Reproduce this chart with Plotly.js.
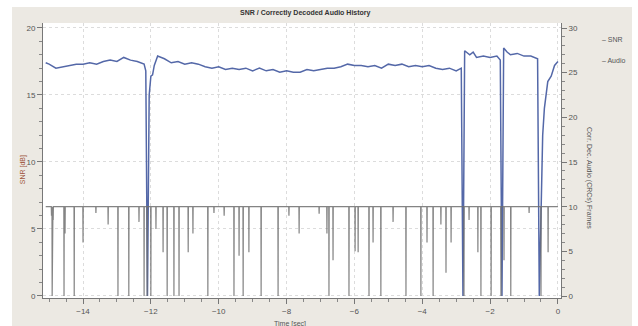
<!DOCTYPE html>
<html>
<head>
<meta charset="utf-8">
<script src="https://cdn.plot.ly/plotly-3.0.1.min.js"></script>
<style>
html,body{margin:0;padding:0;background:#ffffff;width:638px;height:326px;overflow:hidden;}
#chart{position:absolute;left:12px;top:7px;width:620px;height:319px;}
</style>
</head>
<body>
<div id="chart"></div>
<script>
// SNR history (seconds before now, dB)
var snrTime = [-15.1,-15.0,-14.8,-14.6,-14.4,-14.2,-14.0,-13.8,-13.6,-13.4,-13.2,-13.0,-12.8,-12.6,-12.4,-12.2,-12.15,-12.1,-12.05,-12.0,-11.95,-11.9,-11.8,-11.6,-11.4,-11.2,-11.0,-10.8,-10.6,-10.4,-10.2,-10.0,-9.8,-9.6,-9.4,-9.2,-9.0,-8.8,-8.6,-8.4,-8.2,-8.0,-7.8,-7.6,-7.4,-7.2,-7.0,-6.8,-6.6,-6.4,-6.2,-6.0,-5.8,-5.6,-5.4,-5.2,-5.0,-4.8,-4.6,-4.4,-4.2,-4.0,-3.8,-3.6,-3.4,-3.2,-3.0,-2.85,-2.8,-2.75,-2.6,-2.5,-2.4,-2.2,-2.0,-1.8,-1.7,-1.65,-1.6,-1.5,-1.4,-1.2,-1.0,-0.8,-0.6,-0.55,-0.45,-0.4,-0.3,-0.2,-0.1,0.0];
var snrValue = [17.4,17.3,17.0,17.1,17.2,17.3,17.3,17.4,17.3,17.5,17.6,17.5,17.8,17.6,17.5,17.3,16.8,0,15.0,16.4,16.5,17.2,17.9,17.7,17.4,17.5,17.3,17.4,17.3,17.1,17.0,17.1,16.9,17.0,16.9,17.0,16.8,17.0,16.8,16.9,16.7,16.8,16.7,16.7,16.9,16.8,16.9,17.0,17.0,17.1,17.3,17.2,17.2,17.1,17.2,17.0,17.3,17.2,17.3,17.1,17.2,17.1,17.2,17.0,16.9,17.0,16.8,17.0,0,18.3,18.0,18.2,17.8,17.9,17.8,17.9,17.6,0,18.5,18.2,18.0,18.1,17.9,17.9,17.7,0,12.0,14.0,16.0,16.4,17.2,17.5];

// Correctly decoded audio frames: dips below the nominal 10 frames
var audioNominal = 10;
var audioDipTime = [-14.93,-14.91,-14.88,-14.56,-14.53,-14.26,-14.0,-13.62,-13.26,-12.97,-12.65,-12.35,-12.2,-12.11,-12.0,-11.85,-11.64,-11.52,-11.32,-11.17,-10.9,-10.76,-10.32,-10.14,-9.84,-9.55,-9.4,-9.28,-9.11,-8.75,-8.25,-7.93,-7.63,-7.04,-6.81,-6.75,-6.63,-6.16,-5.98,-5.89,-5.57,-5.45,-5.22,-4.86,-4.48,-4.04,-3.86,-3.68,-3.45,-3.3,-3.15,-2.77,-2.62,-2.36,-2.27,-1.97,-1.68,-1.59,-1.39,-0.85,-0.5,-0.29];
var audioDipValue = [9.0,0,8.5,0,7.0,0,6.0,9.3,8.0,0,0,8.3,0,0,0,7.5,4.9,0,0,0,4.9,7.0,0,9.3,9.0,0,4.5,0,4.9,0,0,9.0,7.0,9.2,7.0,0,4.0,0,5.0,4.9,0,6.0,0,8.3,0,0,6.0,0,8.0,2.6,6.0,0,8.5,4.9,0,0,0,4.0,0,9.3,0,4.9];
var audioStart = -15.1, audioEnd = 0.0;

var ax = [audioStart], ay = [audioNominal];
for (var i = 0; i < audioDipTime.length; i++) {
  ax.push(audioDipTime[i] - 0.006, audioDipTime[i], audioDipTime[i] + 0.006);
  ay.push(audioNominal, audioDipValue[i], audioNominal);
}
ax.push(audioEnd); ay.push(audioNominal);

var traces = [
  {x: ax, y: ay, type: 'scatter', mode: 'lines', name: 'Audio', yaxis: 'y2',
   line: {color: '#6e6e6e', width: 1.2}, opacity: 0.85, showlegend: false, hoverinfo: 'skip'},
  {x: snrTime, y: snrValue, type: 'scatter', mode: 'lines', name: 'SNR',
   line: {color: '#5468a8', width: 1.5}, showlegend: false}
];

var tickFont = {family: 'Liberation Sans, Arial, sans-serif', size: 8, color: '#555'};
var layout = {
  width: 620, height: 319,
  margin: {l: 31, r: 71, t: 16, b: 28, pad: 0},
  paper_bgcolor: '#ece9e3',
  plot_bgcolor: '#ffffff',
  showlegend: false,
  title: {text: '<b>SNR / Correctly Decoded Audio History</b>', x: 0.473, xanchor: 'center',
          y: 0.984, yanchor: 'middle', yref: 'container',
          font: {family: 'Liberation Sans, Arial, sans-serif', size: 7, color: '#333'}},
  xaxis: {range: [-15.18, 0.09], dtick: 2, tick0: 0, showgrid: true, gridcolor: '#dcdcdc', griddash: 'dot',
          zeroline: false, showline: true, linecolor: '#777', ticks: 'outside', ticklen: 5, tickcolor: '#777',
          minor: {dtick: 0.5, ticklen: 3, tickcolor: '#888', showgrid: false},
          tickfont: tickFont},
  yaxis: {range: [-0.15, 20.37], dtick: 5, showgrid: true, gridcolor: '#dcdcdc', griddash: 'dot',
          zeroline: false, showline: true, linecolor: '#777', ticks: 'outside', ticklen: 5, tickcolor: '#777',
          minor: {dtick: 1, ticklen: 3, tickcolor: '#888', showgrid: false},
          tickfont: tickFont},
  yaxis2: {range: [-0.22, 30.56], dtick: 5, overlaying: 'y', side: 'right', showgrid: false,
           zeroline: false, showline: true, linecolor: '#777', ticks: 'outside', ticklen: 5, tickcolor: '#777',
           minor: {dtick: 1, ticklen: 3, tickcolor: '#888', showgrid: false},
           tickfont: tickFont},
  annotations: [
    {text: 'SNR [dB]', xref: 'paper', yref: 'paper', x: -0.05, y: 0.465, textangle: -90,
     showarrow: false, font: {family: 'Liberation Sans, Arial, sans-serif', size: 7, color: '#a0563e'}},
    {text: 'Corr. Dec. Audio (CRCs) Frames', xref: 'paper', yref: 'paper', x: 1.066, y: 0.436, textangle: 90,
     showarrow: false, font: {family: 'Liberation Sans, Arial, sans-serif', size: 7, color: '#555'}},
    {text: 'Time [sec]', xref: 'paper', yref: 'paper', x: 0.477, y: -0.095, yanchor: 'middle',
     showarrow: false, font: {family: 'Liberation Sans, Arial, sans-serif', size: 7, color: '#555'}},
    {text: '\u2013 SNR', xref: 'paper', yref: 'paper', x: 1.075, xanchor: 'left', y: 0.96,
     showarrow: false, font: {family: 'Liberation Sans, Arial, sans-serif', size: 7, color: '#555'}},
    {text: '\u2013 Audio', xref: 'paper', yref: 'paper', x: 1.075, xanchor: 'left', y: 0.884,
     showarrow: false, font: {family: 'Liberation Sans, Arial, sans-serif', size: 7, color: '#555'}}
  ]
};

Plotly.newPlot('chart', traces, layout, {displayModeBar: false, staticPlot: true});
</script>
</body>
</html>
